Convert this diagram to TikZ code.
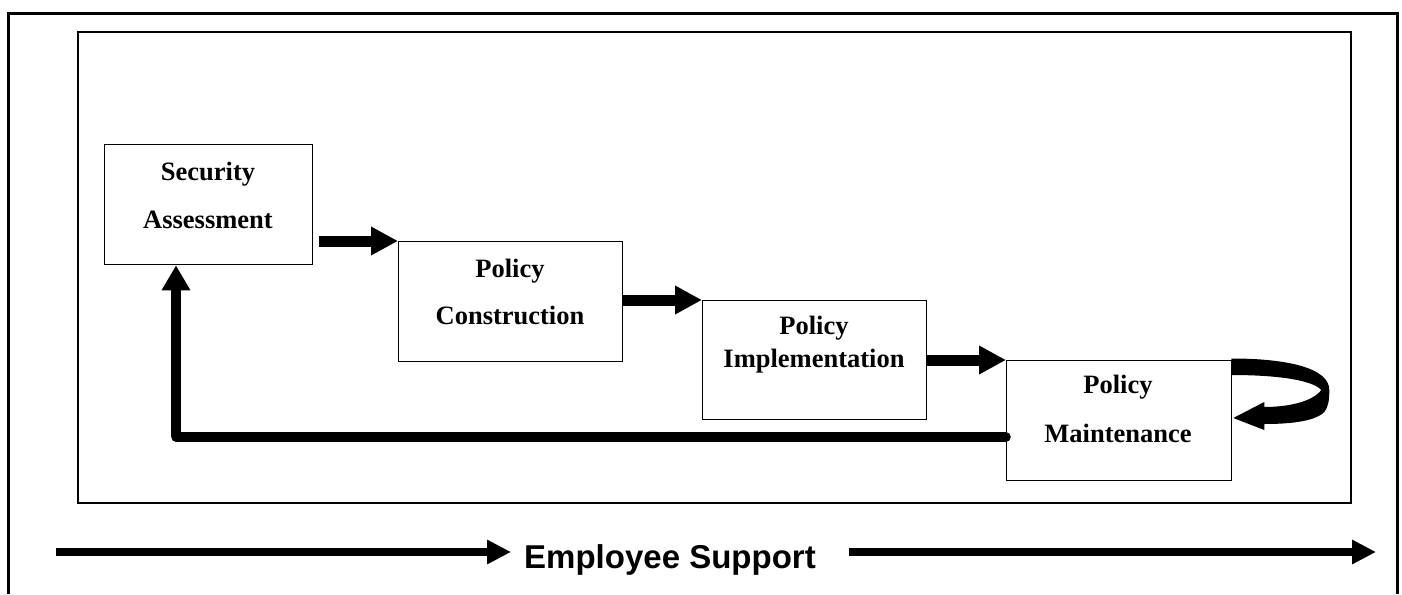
\documentclass[tikz,border=0pt]{standalone}
\usepackage{fontspec}
\setmainfont{Liberation Serif}
\newfontfamily\labelsans{Liberation Sans}
\usetikzlibrary{arrows.meta}

\begin{document}
\begin{tikzpicture}[x=1pt,y=-1pt,
  stagebox/.style={draw, line width=1.3pt, rectangle, inner sep=0pt,
    anchor=north west},
  stagetext/.style={anchor=base, inner sep=0pt,
    font=\bfseries\fontsize{26.5}{30}\selectfont},
  flow/.style={line width=11pt, -{Triangle[length=27pt,width=27pt]}},
  backflow/.style={line width=9.5pt, -{Triangle[length=25pt,width=27pt]}},
  returnline/.style={line width=9.5pt, line cap=round},
  supportflow/.style={line width=8pt, -{Triangle[length=24pt,width=23pt]}}
]
\useasboundingbox (0,0) rectangle (1402,594);

% open outer frame and inner panel
\draw[line width=3pt] (8.5,594) -- (8.5,14) -- (1397.5,14) -- (1397.5,594);
\draw[line width=1.5pt] (78,32) rectangle (1351,503);

% the four stages
\node[stagebox, minimum width=208pt, minimum height=120pt] (sa) at (104,144) {};
\node[stagebox, minimum width=224pt, minimum height=120pt] (pc) at (398,241) {};
\node[stagebox, minimum width=224pt, minimum height=119pt] (pi) at (702,300) {};
\node[stagebox, minimum width=225pt, minimum height=120pt] (pm) at (1006,360) {};

\node[stagetext] (sa1) at (208,180) {Security};
\node[stagetext] (sa2) at (208,228) {Assessment};
\node[stagetext] (pc1) at (510,277) {Policy};
\node[stagetext] (pc2) at (510,324) {Construction};
\node[stagetext] (pi1) at (814,334) {Policy};
\node[stagetext] (pi2) at (814,367) {Implementation};
\node[stagetext] (pm1) at (1118,393) {Policy};
\node[stagetext] (pm2) at (1118,442) {Maintenance};

% forward arrows between stages
\draw[flow, shorten <=6pt] (sa.east |- pc.north west) -- (pc.north west);
\draw[flow] (pc.east |- pi.north west) -- (pi.north west);
\draw[flow] (pi.east |- pm.north west) -- (pm.north west);

% feedback from maintenance back to assessment
\coordinate (ret) at (176,437);
\draw[returnline] (pm.west |- ret) -- (ret);
\draw[backflow] (ret) -- (ret |- sa.south);

% curled self-loop on the maintenance stage
\fill[shift={(pm.north east)}]
  (-1,-1.5) .. controls (55,-1.5) and (97,8) .. (97,30)
  .. controls (97,40) and (96,47) .. (92,52)
  .. controls (82,62) and (55,64) .. (32,64)
  -- (32,70) -- (1,58) -- (32,42) -- (32,47)
  .. controls (55,47) and (80,42) .. (89,30)
  .. controls (80,20) and (45,15) .. (-1,15) -- cycle;

% employee support band
\node[anchor=base, inner sep=0pt,
  font=\labelsans\bfseries\fontsize{33}{36}\selectfont] (es) at (670,568) {Employee Support};
\coordinate (sl) at (56,552);
\coordinate (sr) at (1376,552);
\draw[supportflow, shorten >=13pt] (sl) -- (es.west |- sl);
\draw[supportflow, shorten <=33pt] (es.east |- sr) -- (sr);
\end{tikzpicture}
\end{document}
